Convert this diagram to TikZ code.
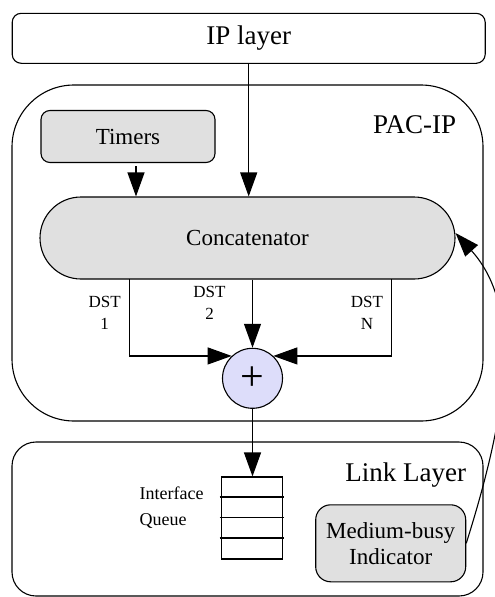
\documentclass[tikz,border=0pt]{standalone}
\usepackage{fontspec}
\setmainfont{Liberation Serif}
\usetikzlibrary{arrows.meta}
\definecolor{unitgray}{RGB}{224,224,224}
\definecolor{sumblue}{RGB}{221,221,250}

\begin{document}
\begin{tikzpicture}[x=1pt,y=-1pt,line width=1.1pt,
    arr/.style={-{Triangle[length=24pt,width=17pt]}},
    layerbox/.style={draw,rounded corners=#1,inner sep=0pt},
    layerbox/.default=9pt,
    unitbox/.style={draw,fill=unitgray,rounded corners=#1,inner sep=0pt,align=center},
    unitbox/.default=9pt,
    big/.style={font=\fontsize{27}{32}\selectfont},
    mid/.style={font=\fontsize{23}{26}\selectfont},
    small/.style={font=\fontsize{17}{22}\selectfont,align=center,inner sep=0pt}]
      \useasboundingbox (0,0) rectangle (495,597);

      \node[layerbox=9pt,minimum width=473pt,minimum height=50pt,big] (ip) at (248.7,38.3) {IP layer};

      \node[layerbox=62pt,minimum width=471pt,minimum height=336pt] (pac) at (247.5,253) {};
      \node[big,anchor=base east] (paclabel) at (460,133) {PAC-IP};
      \node[layerbox=24pt,minimum width=471pt,minimum height=154pt] (link) at (247.5,519) {};
      \node[big,anchor=base east] (linklabel) at (470,481) {Link Layer};

      \node[unitbox=9pt,minimum width=174pt,minimum height=52pt,mid] (timers) at (128,136.5) {Timers};
      \node[unitbox=41pt,minimum width=415pt,minimum height=82pt,mid] (concat) at (247.5,238) {Concatenator};
      \node[draw,circle,fill=sumblue,minimum size=60pt,inner sep=0pt,font=\fontsize{42}{42}\selectfont] (sum) at (252.5,378.3) {+};

      \node[small] (dst1) at (104.7,312.5) {DST\\1};
      \node[small] (dst2) at (209.5,302.8) {DST\\2};
      \node[small] (dstn) at (367,312.5) {DST\\N};

      \node[draw,minimum width=60.6pt,minimum height=82pt,inner sep=0pt] (queue) at (252,518) {};
      \draw ([xshift=-1.5pt,yshift=-20.5pt]queue.north west) -- ([xshift=1.5pt,yshift=-20.5pt]queue.north east);
      \draw ([xshift=-1.5pt,yshift=-41pt]queue.north west) -- ([xshift=1.5pt,yshift=-41pt]queue.north east);
      \draw ([xshift=-1.5pt,yshift=-61.5pt]queue.north west) -- ([xshift=1.5pt,yshift=-61.5pt]queue.north east);
      \node[font=\fontsize{18}{25.7}\selectfont,align=left,anchor=west,inner sep=0pt] (qlabel) at (139,507.5) {Interface\\Queue};

      \node[unitbox=15pt,minimum width=150pt,minimum height=77pt,mid] (mbi) at (390.7,543.3) {Medium-busy\\Indicator};

      \coordinate (tout) at ([xshift=8pt,yshift=-3pt]timers.south);
      \coordinate (d1top) at (129.3,279);
      \coordinate (dntop) at (391.7,279);

      \draw[arr] (ip.south) -- (ip.south |- concat.north);
      \draw[arr] (tout) -- (tout |- concat.north);
      \draw[arr] (d1top) |- (sum.133);
      \draw[arr] (sum |- concat.south) -- (sum);
      \draw[arr] (dntop) |- (sum.47);
      \draw[arr] (sum) -- (sum |- queue.north);
      \draw[arr] (mbi.east) .. controls (505,420) and (525,310) .. ([yshift=5pt]concat.east);
    \end{tikzpicture}
\end{document}
